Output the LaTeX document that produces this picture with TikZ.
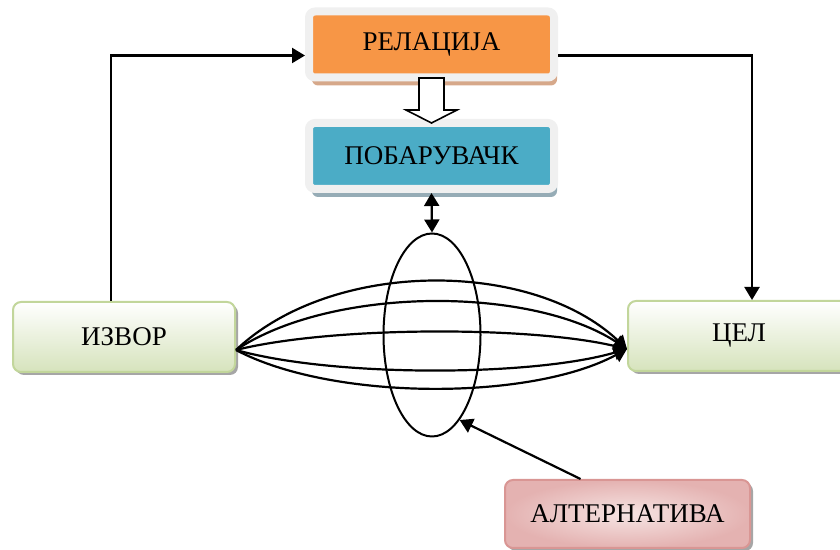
\documentclass[tikz,border=0pt]{standalone}
\usepackage{fontspec}
\setmainfont{Liberation Serif}
\usetikzlibrary{shapes.geometric, arrows.meta, positioning, calc, shadows}
\definecolor{diagOrange}{RGB}{247,150,70}
\definecolor{diagOrangeSh}{RGB}{214,168,138}
\definecolor{diagBlue}{RGB}{75,172,198}
\definecolor{diagBlueSh}{RGB}{150,172,182}
\definecolor{diagFrame}{RGB}{240,240,240}
\definecolor{diagGreenBg}{RGB}{214,227,188}
\definecolor{diagGreenLine}{RGB}{194,214,155}
\definecolor{diagPinkBg}{RGB}{228,178,177}
\definecolor{diagPinkLight}{RGB}{246,228,227}
\definecolor{diagPinkLine}{RGB}{217,150,148}
\tikzset{
    diagram/.style={x=0.5pt, y=0.5pt, >={Triangle[length=6.5pt, width=7.5pt]},
                    font=\fontsize{13.5}{16}\selectfont},
    framed/.style={draw=diagFrame, line width=4pt, rounded corners=3pt,
                   minimum width=122.5pt, minimum height=33pt, align=center},
    relation/.style={framed, fill=diagOrange,
                     drop shadow={shadow xshift=1.5pt, shadow yshift=-4pt,
                                  fill=diagOrangeSh, opacity=1}},
    requester/.style={framed, fill=diagBlue,
                      drop shadow={shadow xshift=1.5pt, shadow yshift=-4pt,
                                   fill=diagBlueSh, opacity=1}},
    endpoint/.style={draw=diagGreenLine, line width=1pt, rounded corners=4pt,
                     top color=white, bottom color=diagGreenBg,
                     minimum width=111pt, minimum height=35pt, align=center,
                     drop shadow={shadow xshift=1.5pt, shadow yshift=-1.5pt,
                                  fill=black!35, opacity=1}},
    choice/.style={draw=diagPinkLine, line width=1pt, rounded corners=4pt,
                   inner color=diagPinkLight, outer color=diagPinkBg,
                   minimum width=122.5pt, minimum height=34pt, align=center,
                   drop shadow={shadow xshift=1.5pt, shadow yshift=-1.5pt,
                                fill=black!35, opacity=1}},
    span/.style={draw, ellipse, line width=1pt, inner sep=0pt,
                 minimum width=48.5pt, minimum height=101.5pt},
    arrow/.style={->, line width=1.1pt},
    bundle/.style={->, line width=1.1pt},
    hollow/.style={draw, line width=0.8pt, fill=white, line join=miter},
}

\begin{document}
\begin{tikzpicture}[diagram]
\useasboundingbox (0,0) rectangle (840,550);

% ─── Горе: релација и побарувач ─────────────────────────────────────────
\node[relation] (rel) at (431.5,505.5) {РЕЛАЦИЈА};
\node[requester, below=18.75pt of rel] (pob) {ПОБАРУВАЧК};

% ─── Извор, цел, алтернатива ────────────────────────────────────────────
\node[endpoint] (izvor) at (124,213) {ИЗВОР};
\node[endpoint] (cel) at (739,214) {ЦЕЛ};
\node[choice] (alt) at (627.5,36) {АЛТЕРНАТИВА};
\node[span] (ell) at (432,215) {};

% ─── Шуплива стрелка ────────────────────────────────────────────────────
\draw[hollow] ($(rel.south)+(-12.5,3.5)$) -- ++(25,0) -- ++(0,-32)
    -- ++(13,0) -- ++(-25.5,-13) -- ++(-25.5,13) -- ++(13,0) -- cycle;

% ─── Патишта од извор до цел ────────────────────────────────────────────
\coordinate (src) at ($(izvor.east)+(0,-13)$);
\coordinate (dst) at ($(cel.west)+(0,-13)$);
\foreach \cy in {291,264,224,173,149}
    \draw[bundle] (src) .. controls (332,\cy) and (531,\cy) .. (dst);

% ─── Стрелки ────────────────────────────────────────────────────────────
\draw[arrow, <->] (pob.south) -- (ell.north);
\draw[arrow] ($(izvor.north)+(-13,0)$) |- ($(rel.west)+(0,-11)$);
\draw[arrow] ($(rel.east)+(0,-11)$) -| ($(cel.north)+(13,0)$);
\draw[arrow] ($(alt.north)+(-47,0)$) -- (ell.-72);

\end{tikzpicture}
\end{document}
